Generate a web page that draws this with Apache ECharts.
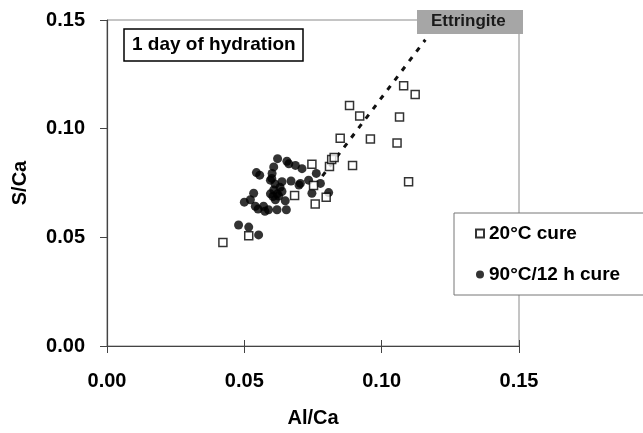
<!DOCTYPE html>
<html><head><meta charset="utf-8">
<script src="https://cdn.jsdelivr.net/npm/echarts@6/dist/echarts.min.js"></script>
<style>html,body{margin:0;padding:0;background:#fff}#c{width:643px;height:433px}</style>
</head><body><div id="c"></div>
<script>
const xTicks = [0.00, 0.05, 0.10, 0.15];
const yTicks = [0.00, 0.05, 0.10, 0.15];
const cure20X = [0.0422,0.0516,0.0683,0.0746,0.0752,0.0758,0.0798,0.0810,0.0818,0.0827,0.0849,0.0883,0.0894,0.0920,0.0959,0.1056,0.1065,0.1080,0.1098,0.1122];
const cure20Y = [0.0476,0.0507,0.0693,0.0836,0.0738,0.0653,0.0684,0.0826,0.0858,0.0867,0.0956,0.1107,0.0831,0.1058,0.0953,0.0934,0.1054,0.1197,0.0756,0.1157];
const cure90X = [0.0479,0.0516,0.0552,0.0500,0.0522,0.0534,0.0540,0.0550,0.0570,0.0575,0.0588,0.0619,0.0653,0.0613,0.0649,0.0604,0.0620,0.0544,0.0556,0.0621,0.0655,0.0662,0.0686,0.0710,0.0607,0.0601,0.0600,0.0595,0.0612,0.0637,0.0670,0.0704,0.0734,0.0699,0.0762,0.0777,0.0607,0.0637,0.0630,0.0746,0.0807,0.0595,0.0625];
const cure90Y = [0.0557,0.0547,0.0511,0.0662,0.0673,0.0703,0.0643,0.0630,0.0643,0.0620,0.0627,0.0627,0.0627,0.0673,0.0668,0.0688,0.0700,0.0798,0.0786,0.0862,0.0850,0.0838,0.0831,0.0816,0.0824,0.0794,0.0771,0.0763,0.0745,0.0756,0.0759,0.0748,0.0763,0.0741,0.0794,0.0748,0.0718,0.0711,0.0730,0.0703,0.0706,0.0700,0.0690];
const ettLineX = [0.0784, 0.1159];
const ettLineY = [0.0782, 0.1409];

const FONT = 'Liberation Sans, Arial, sans-serif';
const zip = (a, b) => a.map((v, i) => [v, b[i]]);
const labelStyle = { fontFamily: FONT, fontSize: 20, fontWeight: 'bold', color: '#000' };
const chart = echarts.init(document.getElementById('c'));
chart.setOption({
  animation: false,
  backgroundColor: '#fff',
  grid: { left: 107, right: 124, top: 20, bottom: 83, show: true, borderColor: '#8a8a8a', borderWidth: 1 },
  title: {
    text: '1 day of hydration', left: 124, top: 29,
    padding: [6, 8, 7, 8], borderColor: '#000', borderWidth: 1.5,
    textStyle: { fontFamily: FONT, fontSize: 19, fontWeight: 'bold', color: '#000' }
  },
  legend: {
    orient: 'vertical', left: 454, top: 213,
    padding: [11, 40, 11, 21], itemGap: 22, itemWidth: 8, itemHeight: 8,
    backgroundColor: '#fff', borderColor: '#777', borderWidth: 1,
    textStyle: { fontFamily: FONT, fontSize: 19, fontWeight: 'bold', color: '#000' },
    data: [{ name: '20°C cure', icon: 'rect' }, { name: '90°C/12 h cure', icon: 'circle' }]
  },
  xAxis: [{
    type: 'value', min: xTicks[0], max: xTicks[xTicks.length - 1], interval: 0.05,
    name: 'Al/Ca', nameLocation: 'middle', nameGap: 62,
    nameTextStyle: labelStyle,
    axisLine: { lineStyle: { color: '#444', width: 1.2 } },
    axisTick: { length: 7, lineStyle: { color: '#444' } },
    splitLine: { show: false },
    axisLabel: Object.assign({ margin: 25, formatter: v => v.toFixed(2) }, labelStyle)
  }, {
    type: 'value', position: 'bottom', min: xTicks[0], max: xTicks[xTicks.length - 1], interval: 0.05,
    axisLine: { show: false }, axisLabel: { show: false }, splitLine: { show: false },
    axisTick: { inside: true, length: 6, lineStyle: { color: '#444' } }
  }],
  yAxis: {
    type: 'value', min: yTicks[0], max: yTicks[yTicks.length - 1], interval: 0.05,
    name: 'S/Ca', nameLocation: 'middle', nameGap: 77, nameRotate: 90,
    nameTextStyle: labelStyle,
    axisLine: { show: true, lineStyle: { color: '#444', width: 1.2 } },
    axisTick: { show: true, length: 7, lineStyle: { color: '#444' } },
    splitLine: { show: false },
    axisLabel: Object.assign({ margin: 22, formatter: v => v.toFixed(2) }, labelStyle)
  },
  graphic: [
    { type: 'rect', left: 417, top: 10, z: 100, shape: { width: 106, height: 24 }, style: { fill: '#a6a6a6' } },
    { type: 'text', left: 431, top: 13, z: 101, style: { text: 'Ettringite', fill: '#1a1a1a', font: 'bold 17px ' + FONT } }
  ],
  series: [
    { type: 'line', data: zip(ettLineX, ettLineY), symbol: 'none', silent: true, z: 1,
      lineStyle: { color: '#111', width: 3, type: [5, 7] } },
    { name: '20°C cure', type: 'scatter', data: zip(cure20X, cure20Y), symbol: 'rect', symbolSize: 8, z: 3,
      itemStyle: { color: '#fff', borderColor: '#000', borderWidth: 1.5 } },
    { name: '90°C/12 h cure', type: 'scatter', data: zip(cure90X, cure90Y), symbol: 'circle', symbolSize: 9, z: 2,
      itemStyle: { color: '#000' } }
  ]
});
</script></body></html>
